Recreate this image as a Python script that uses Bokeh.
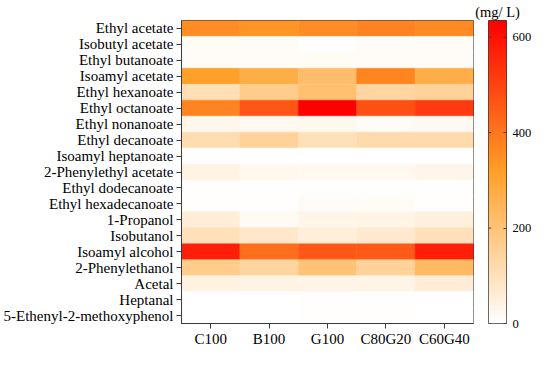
import numpy as np
from bokeh.plotting import figure
from bokeh.models import FactorRange, Range1d, LinearColorMapper, ColumnDataSource, FixedTicker
from bokeh.transform import transform
from bokeh.layouts import row
from bokeh.embed import file_html
from bokeh.resources import INLINE

compounds = [
    "Ethyl acetate", "Isobutyl acetate", "Ethyl butanoate", "Isoamyl acetate",
    "Ethyl hexanoate", "Ethyl octanoate", "Ethyl nonanoate", "Ethyl decanoate",
    "Isoamyl heptanoate", "2-Phenylethyl acetate", "Ethyl dodecanoate",
    "Ethyl hexadecanoate", "1-Propanol", "Isobutanol", "Isoamyl alcohol",
    "2-Phenylethanol", "Acetal", "Heptanal", "5-Ethenyl-2-methoxyphenol",
]
samples = ["C100", "B100", "G100", "C80G20", "C60G40"]

c100   = [357, 15, 12, 317, 109, 373, 28, 116, 2, 40, 6, 5, 60, 105, 571, 170, 43, 1, 1]
b100   = [339, 10, 14, 274, 172, 466, 22, 149, 2, 25, 6, 6, 19, 81, 416, 143, 40, 1, 1]
g100   = [355, 7, 15, 220, 211, 635, 25, 105, 2, 22, 5, 10, 34, 55, 460, 199, 38, 4, 4]
c80g20 = [377, 10, 12, 370, 140, 476, 15, 122, 2, 22, 6, 15, 37, 72, 456, 149, 35, 4, 4]
c60g40 = [360, 12, 12, 272, 149, 520, 20, 122, 2, 30, 6, 6, 50, 102, 571, 234, 60, 1, 1]

cbar_ticks = [0, 200, 400, 600]
cbar_max = 635
cbar_title = "(mg/ L)"

FONT = "Liberation Serif"
FS = "15px"
DARK = "#3a3a3a"

# palette white -> orange -> red
stops = [(0.0, (255, 255, 255)), (0.5, (255, 160, 40)), (1.0, (255, 0, 0))]
palette = []
for i in range(256):
    t = i / 255
    for (t0, c0), (t1, c1) in zip(stops[:-1], stops[1:]):
        if t0 <= t <= t1:
            f = (t - t0) / (t1 - t0)
            rgb = [round(a + (b - a) * f) for a, b in zip(c0, c1)]
            break
    palette.append("#%02x%02x%02x" % tuple(rgb))
mapper = LinearColorMapper(palette=palette, low=0, high=cbar_max)

series = [c100, b100, g100, c80g20, c60g40]
xs, ys, vs = [], [], []
for s, vals in zip(samples, series):
    for c, v in zip(compounds, vals):
        xs.append(s); ys.append(c); vs.append(v)
src = ColumnDataSource(dict(sample=xs, compound=ys, val=vs))

H = 349
TOP = 17
BOTTOM = 25
LEFT = 178
FRAME_W = 295
W1 = LEFT + FRAME_W + 1
GAP = 14
BAR_W = 20
W2 = 534 - W1

p = figure(x_range=FactorRange(*samples), y_range=FactorRange(*reversed(compounds)),
           width=W1, height=H, min_border_left=LEFT, min_border_right=1,
           min_border_top=TOP, min_border_bottom=BOTTOM,
           output_backend="svg", toolbar_location=None)
p.rect(x="sample", y="compound", width=1, height=1, source=src,
       fill_color=transform("val", mapper), line_color=transform("val", mapper),
       line_width=0.5)
p.grid.visible = False
p.outline_line_color = DARK
for ax in (p.xaxis, p.yaxis):
    ax.major_tick_out = 5
    ax.major_tick_in = 0
    ax.axis_line_color = DARK
    ax.major_tick_line_color = DARK
    ax.major_label_text_font = FONT
    ax.major_label_text_font_size = FS
    ax.major_label_text_color = "black"
p.xaxis.major_label_standoff = 2
p.yaxis.major_label_standoff = 3

# colour bar: a second figure whose frame is the bar
p2 = figure(width=W2, height=H, x_range=Range1d(0, BAR_W), y_range=Range1d(0, cbar_max),
            min_border_left=GAP, min_border_right=0, min_border_top=0, min_border_bottom=0,
            output_backend="svg", toolbar_location=None,
            x_axis_location=None, y_axis_location="right")
p2.outline_line_color = DARK
p2.grid.visible = False
grad = np.linspace(0, cbar_max, 256).reshape(256, 1)
grad = np.hstack([grad, grad])
p2.image(image=[grad], x=0, y=0, dw=BAR_W, dh=cbar_max, color_mapper=mapper)
p2.segment(x0=[0] * len(cbar_ticks), x1=[3] * len(cbar_ticks),
           y0=cbar_ticks, y1=cbar_ticks, line_color=DARK)
ya = p2.yaxis[0]
ya.ticker = FixedTicker(ticks=cbar_ticks)
ya.axis_line_color = None
ya.major_tick_in = 3
ya.major_tick_out = 0
ya.major_tick_line_color = DARK
ya.minor_tick_line_color = None
ya.major_label_standoff = 6
ya.major_label_text_font = FONT
ya.major_label_text_font_size = "12.5px"
ya.major_label_text_color = "black"
p2.title.text = cbar_title
p2.title.align = "center"
p2.title.text_font = FONT
p2.title.text_font_size = "14.5px"
p2.title.text_font_style = "normal"
p2.title.text_color = "black"
p2.title.standoff = 2
p2.title.offset = 0

layout = row(p, p2)
open("out.html", "w").write(file_html(layout, INLINE))
